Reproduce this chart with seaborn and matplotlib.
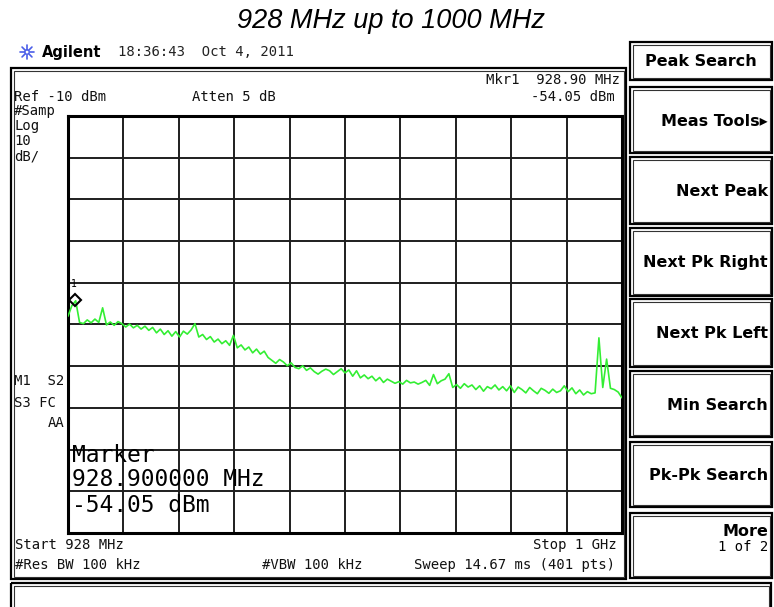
import numpy as np
import pandas as pd
import matplotlib
matplotlib.use("Agg")
import matplotlib.pyplot as plt
from matplotlib.patches import Rectangle
import seaborn as sns

# Sweep settings
start_mhz = 928.0
stop_mhz = 1000.0
ref_dbm = -10.0
db_per_div = 10.0
marker_mhz = 928.90
marker_dbm = -54.05

# Trace levels (dBm), 0.5 MHz apart from start to stop
level_dbm = [
    -58.0, -55.5, -54.3, -59.5, -59.8, -58.9, -59.6, -58.7, -59.5, -56.0,
    -60.1, -59.4, -60.2, -59.3, -59.8, -60.6, -59.9, -60.8, -60.2, -61.1,
    -60.4, -61.4, -60.7, -62.0, -61.1, -62.4, -61.5, -62.8, -61.7, -63.0,
    -61.6, -62.3, -61.3, -59.8, -63.0, -62.4, -63.6, -62.9, -64.2, -63.5,
    -64.6, -63.9, -65.0, -62.6, -65.6, -64.9, -66.1, -65.4, -66.8, -65.9,
    -67.1, -66.4, -67.9, -68.6, -69.3, -68.4, -69.0, -69.9, -69.2, -70.3,
    -70.6, -69.9, -71.0, -70.4, -71.3, -71.9, -71.2, -70.7, -71.1, -72.0,
    -71.3, -70.6, -71.6, -70.9, -72.4, -71.1, -72.8, -72.1, -73.0, -72.4,
    -73.5, -72.7, -73.9, -73.1, -73.6, -74.1, -73.7, -74.3, -73.4, -74.0,
    -73.8, -74.3, -73.9, -73.4, -74.6, -72.0, -74.2, -73.5, -73.1, -71.8,
    -75.1, -74.4, -75.3, -74.2, -75.0, -74.5, -75.6, -74.7, -76.0, -74.9,
    -75.4, -74.5, -75.7, -74.9, -75.9, -74.7, -76.3, -75.0, -75.6, -76.4,
    -75.1, -75.9, -76.6, -75.3, -75.8, -76.5, -75.5, -76.3, -75.9, -74.7,
    -76.1, -75.2, -76.6, -75.7, -76.9, -76.1, -76.6, -76.4, -63.2, -75.1,
    -68.3, -75.3, -75.6, -76.2, -77.6,
]

softkeys = ["Peak Search", "Meas Tools\u25b8", "Next Peak", "Next Pk Right",
            "Next Pk Left", "Min Search", "Pk-Pk Search"]

freq_mhz = np.linspace(start_mhz, stop_mhz, len(level_dbm))
trace = pd.DataFrame({"freq": freq_mhz, "level": level_dbm})

W, H = 774, 607
sns.set_style("white")
plt.rcParams["font.family"] = ["DejaVu Sans"]
plt.rcParams["text.color"] = "black"
fig = plt.figure(figsize=(W / 100, H / 100), dpi=100)
fig.patch.set_facecolor("white")

MONO = "DejaVu Sans Mono"

# Graticule area
gx0, gy0, gx1, gy1 = 68, 116, 622, 533
ax = fig.add_axes([gx0 / W, 1 - gy1 / H, (gx1 - gx0) / W, (gy1 - gy0) / H])
ax.set_axisbelow(True)
sns.lineplot(data=trace, x="freq", y="level", ax=ax, color="#33ee33",
             linewidth=1.2, zorder=3)
ax.set_xlim(start_mhz, stop_mhz)
ax.set_ylim(ref_dbm - 10 * db_per_div, ref_dbm)
ax.set_xticks(np.linspace(start_mhz, stop_mhz, 11))
ax.set_yticks(np.linspace(ref_dbm - 10 * db_per_div, ref_dbm, 11))
ax.grid(True, color="#1e1e1e", linewidth=1.4)
ax.tick_params(length=0, labelbottom=False, labelleft=False)
ax.set_xlabel("")
ax.set_ylabel("")
for s in ax.spines.values():
    s.set_visible(True)
    s.set_color("black")
    s.set_linewidth(2.2)

# Marker 1
ax.plot([marker_mhz], [marker_dbm], marker="D", ms=6, mfc="none", mec="black",
        mew=1.5, zorder=4)
ax.annotate("1", (marker_mhz, marker_dbm), xytext=(-1, 8),
            textcoords="offset points", ha="center", va="bottom",
            fontsize=7, family=MONO, zorder=4)

# Overlay in pixel coordinates for the instrument screen furniture
ov = fig.add_axes([0, 0, 1, 1], zorder=5)
ov.set_xlim(0, W)
ov.set_ylim(H, 0)
ov.axis("off")


def box(x0, y0, x1, y1, lw=1.6, inner=True):
    ov.add_patch(Rectangle((x0, y0), x1 - x0, y1 - y0, fill=False,
                           ec="black", lw=lw))
    if inner:
        ov.add_patch(Rectangle((x0 + 2.5, y0 + 2.5), x1 - x0 - 5, y1 - y0 - 5,
                               fill=False, ec="#333333", lw=0.8))


# Screen frame and message line
box(11, 68, 626, 579)
box(11, 583, 771, 640)

# Title
ov.text(391, 21, "928 MHz up to 1000 MHz", ha="center", va="center",
        fontsize=19.5, style="italic", family="Liberation Sans")

# Agilent logo
cx, cy = 27, 52
for ang in np.arange(0, 360, 45):
    r = np.deg2rad(ang)
    ov.plot([cx + 2.5 * np.cos(r), cx + 7 * np.cos(r)],
            [cy + 2.5 * np.sin(r), cy + 7 * np.sin(r)],
            color="#4a5ee8", lw=1.2)
ov.add_patch(plt.Circle((cx, cy), 2.2, fill=False, ec="#4a5ee8", lw=1.0))
ov.text(42, 52, "Agilent", ha="left", va="center", fontsize=10.5,
        weight="bold")
ov.text(118, 52, "18:36:43  Oct 4, 2011", ha="left", va="center",
        fontsize=10, family=MONO, color="#222222")

# Header annotations
small = dict(fontsize=10, family=MONO, color="#111111", va="center")
ov.text(620, 80, "Mkr1  928.90 MHz", ha="right", **small)
ov.text(615, 97, "-54.05 dBm", ha="right", **small)
ov.text(14, 97, "Ref -10 dBm", ha="left", **small)
ov.text(192, 97, "Atten 5 dB", ha="left", **small)
for y, s in [(111, "#Samp"), (126, "Log"), (141, "10"), (156, "dB/")]:
    ov.text(14, y, s, ha="left", **small)
ov.text(14, 381, "M1  S2", ha="left", **small)
ov.text(14, 403, "S3 FC", ha="left", **small)
ov.text(64, 423, "AA", ha="right", **small)

# Marker readout
big = dict(fontsize=16.5, family=MONO, color="black", va="center", ha="left")
ov.text(72, 455, "Marker", **big)
ov.text(72, 480, "928.900000 MHz", **big)
ov.text(72, 505, "-54.05 dBm", **big)

# Footer annotations
ov.text(15, 545, "Start 928 MHz", ha="left", **small)
ov.text(15, 565, "#Res BW 100 kHz", ha="left", **small)
ov.text(262, 565, "#VBW 100 kHz", ha="left", **small)
ov.text(617, 545, "Stop 1 GHz", ha="right", **small)
ov.text(615, 565, "Sweep 14.67 ms (401 pts)", ha="right", **small)

# Softkey panel
key_rows = [(42, 80), (87, 153), (157, 224), (228, 296), (299, 367),
            (371, 437), (442, 507)]
for i, ((y0, y1), label) in enumerate(zip(key_rows, softkeys)):
    box(630, y0, 772, y1)
    if i == 0:
        ov.text(701, (y0 + y1) / 2 + 1, label, ha="center", va="center",
                fontsize=11.5, weight="bold")
    else:
        ov.text(768, (y0 + y1) / 2 + 1, label, ha="right", va="center",
                fontsize=11.5, weight="bold")
box(630, 513, 772, 578)
ov.text(768, 531, "More", ha="right", va="center", fontsize=11.5,
        weight="bold")
ov.text(768, 547, "1 of 2", ha="right", va="center", fontsize=10,
        family=MONO)

fig.savefig("out.png", dpi=100, facecolor="white")
